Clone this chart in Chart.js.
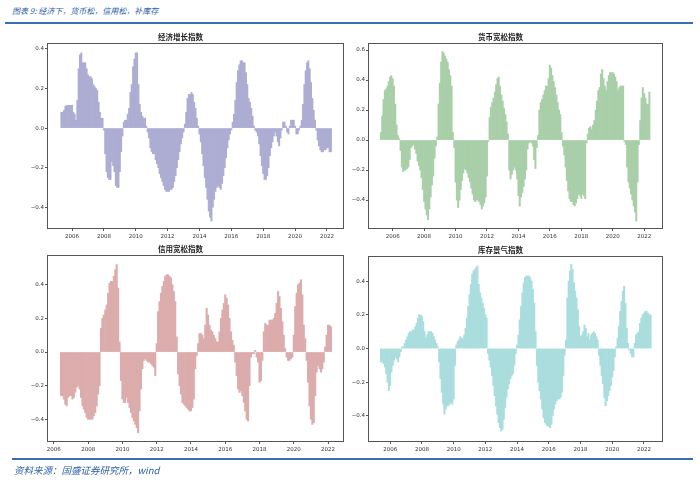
<!DOCTYPE html>
<html>
<head>
<meta charset="utf-8">
<script src="https://cdn.jsdelivr.net/npm/chart.js@4.4.1/dist/chart.umd.min.js"></script>
<style>
  body { margin: 0; background: #fff; }
  #page { position: relative; width: 700px; height: 480px; overflow: hidden; background: #fff; }
  .head { position: absolute; left: 12px; top: 5px; font: italic 8px "Noto Sans CJK SC", sans-serif; color: #2e5fa8; }
  .foot { position: absolute; left: 14px; top: 463px; font: italic 9.5px "Noto Sans CJK SC", sans-serif; color: #2e5fa8; }
  .rule { position: absolute; height: 2px; background: #3b6cb7; }
  canvas { position: absolute; }
</style>
</head>
<body>
<div id="page">
  <div class="head">图表 9: 经济下，货币松，信用松，补库存</div>
  <div class="rule" style="left:5px; top:22px; width:688px;"></div>
  <canvas id="c1" width="329" height="218" style="left:17px; top:27px;"></canvas>
  <canvas id="c2" width="327" height="218" style="left:338px; top:27px;"></canvas>
  <canvas id="c3" width="329" height="219" style="left:17px; top:239px;"></canvas>
  <canvas id="c4" width="327" height="218" style="left:338px; top:240px;"></canvas>
  <div class="rule" style="left:12px; top:458px; width:681px;"></div>
  <div class="foot">资料来源：国盛证券研究所，wind</div>
</div>
<script>
// 月度数据，起始年月
const econStart = [2005, 5];
const econ = [
  0.08, 0.08, 0.09, 0.11, 0.115, 0.115, 0.115, 0.115, 0.115, 0.08, 0.07, 0.04,
  0.14, 0.3, 0.37, 0.38, 0.33, 0.33, 0.33, 0.3, 0.27, 0.26, 0.26, 0.25,
  0.22, 0.21, 0.2, 0.19, 0.13, 0.08, 0.05, 0.05, -0.01, -0.13, -0.22, -0.25,
  -0.26, -0.26, -0.17, -0.19, -0.22, -0.29, -0.3, -0.3, -0.22, -0.12, -0.04, 0.03,
  0.04, 0.04, 0.07, 0.1, 0.18, 0.22, 0.31, 0.35, 0.38, 0.38, 0.22, 0.12,
  0.08, 0.06, 0.05, 0.05, 0.01, -0.02, -0.05, -0.1, -0.12, -0.13, -0.13, -0.16,
  -0.18, -0.2, -0.23, -0.25, -0.27, -0.29, -0.31, -0.32, -0.32, -0.32, -0.31, -0.31,
  -0.3, -0.27, -0.24, -0.2, -0.16, -0.12, -0.08, -0.05, -0.02, 0.02, 0.08, 0.15,
  0.17, 0.17, 0.18, 0.17, 0.13, 0.1, 0.05, 0.01, -0.03, -0.07, -0.13, -0.19,
  -0.25, -0.3, -0.36, -0.42, -0.45, -0.47, -0.4, -0.36, -0.32, -0.3, -0.29, -0.3,
  -0.31, -0.28, -0.24, -0.2, -0.15, -0.1, -0.06, -0.03, -0.01, 0.03, 0.07, 0.14,
  0.23, 0.29, 0.32, 0.34, 0.34, 0.33, 0.33, 0.28, 0.22, 0.15, 0.13, 0.1,
  0.06, 0.01, -0.01, -0.02, -0.04, -0.08, -0.14, -0.19, -0.23, -0.26, -0.26, -0.24,
  -0.2, -0.14, -0.1, -0.07, -0.04, -0.02, -0.04, -0.07, -0.09, -0.05, -0.01, 0.03,
  0.03, 0.01, -0.02, -0.03, 0.01, 0.04, 0.04, 0.04, 0.01, -0.03, -0.03, -0.01,
  0.01, 0.04, 0.12, 0.22, 0.29, 0.33, 0.34, 0.3, 0.23, 0.15, 0.09, 0.04,
  -0.01, -0.06, -0.09, -0.11, -0.12, -0.12, -0.11, -0.11, -0.1, -0.1, -0.12, -0.12
];

const moneyStart = [2005, 4];
const money = [
  0.05, 0.16, 0.27, 0.33, 0.34, 0.36, 0.39, 0.42, 0.43, 0.41, 0.36, 0.24,
  0.1, 0.03, 0.01, -0.07, -0.18, -0.21, -0.2, -0.2, -0.19, -0.18, -0.13, -0.05,
  -0.04, -0.03, -0.06, -0.09, -0.14, -0.17, -0.2, -0.25, -0.33, -0.41, -0.46, -0.5,
  -0.53, -0.46, -0.38, -0.3, -0.24, -0.12, -0.04, 0.02, 0.24, 0.38, 0.52, 0.59,
  0.58, 0.56, 0.54, 0.52, 0.47, 0.43, 0.36, 0.05, -0.05, -0.28, -0.4, -0.45,
  -0.4, -0.33, -0.27, -0.22, -0.19, -0.2, -0.22, -0.25, -0.28, -0.32, -0.36, -0.4,
  -0.41, -0.4, -0.4, -0.41, -0.43, -0.46, -0.44, -0.42, -0.38, -0.24, -0.01, 0.15,
  0.22, 0.25, 0.28, 0.32, 0.37, 0.41, 0.42, 0.36, 0.3, 0.26, 0.21, 0.17,
  0.12, 0.04, -0.2, -0.26, -0.23, -0.2, -0.18, -0.2, -0.26, -0.37, -0.44, -0.38,
  -0.35, -0.31, -0.26, -0.2, -0.06, -0.02, -0.01, -0.02, -0.04, -0.13, -0.19, -0.05,
  0.03, 0.2, 0.25, 0.27, 0.3, 0.33, 0.36, 0.36, 0.41, 0.5, 0.48, 0.43,
  0.39, 0.35, 0.3, 0.25, 0.2, 0.17, 0.05, -0.04, -0.1, -0.18, -0.27, -0.34,
  -0.39, -0.41, -0.41, -0.43, -0.44, -0.42, -0.39, -0.36, -0.37, -0.39, -0.36, -0.37,
  -0.39, -0.02, 0.04, 0.08, 0.09, 0.07, 0.1, 0.13, 0.2, 0.26, 0.33, 0.35,
  0.44, 0.47, 0.41, 0.36, 0.33, 0.39, 0.43, 0.45, 0.45, 0.45, 0.44, 0.42,
  0.39, 0.33, 0.35, 0.36, 0.36, 0.36, -0.01, -0.03, -0.18, -0.28, -0.32, -0.36,
  -0.4, -0.44, -0.48, -0.54, -0.28, -0.03, 0.13, 0.28, 0.35, 0.31, 0.28, 0.24,
  0.24, 0.32
];

const creditStart = [2006, 6];
const credit = [
  -0.26, -0.26, -0.28, -0.31, -0.32, -0.27, -0.26, -0.26, -0.28, -0.27, -0.24, -0.21,
  -0.2, -0.22, -0.27, -0.32, -0.34, -0.36, -0.39, -0.4, -0.4, -0.4, -0.4, -0.38,
  -0.36, -0.32, -0.25, -0.2, 0.14, 0.2, 0.22, 0.25, 0.28, 0.35, 0.41, 0.42,
  0.42, 0.45, 0.49, 0.52, 0.38, 0.06, -0.17, -0.28, -0.3, -0.3, -0.27, -0.3,
  -0.33, -0.36, -0.39, -0.41, -0.43, -0.45, -0.48, -0.35, -0.22, -0.1, -0.05, -0.04,
  -0.05, -0.06, -0.06, -0.07, -0.08, -0.09, -0.14, 0.05, 0.24, 0.3, 0.35, 0.39,
  0.42, 0.45, 0.46, 0.46, 0.45, 0.44, 0.4, 0.36, 0.3, 0.09, -0.13, -0.2,
  -0.25, -0.3, -0.31, -0.32, -0.33, -0.34, -0.35, -0.35, -0.33, -0.28, -0.1, -0.02,
  0.05, 0.11, 0.11, 0.1, 0.08, 0.16, 0.26, 0.22, 0.16, 0.13, 0.12, 0.1,
  0.08, 0.06, 0.06, 0.12, 0.2, 0.25, 0.29, 0.34, 0.32, 0.28, 0.2, 0.12,
  0.07, 0.04, -0.06, -0.14, -0.22, -0.24, -0.23, -0.26, -0.3, -0.35, -0.4, -0.41,
  -0.2, -0.03, -0.01, -0.01, 0.01, -0.03, -0.06, -0.18, -0.17, -0.05, 0.12, 0.17,
  0.16, 0.16, 0.19, 0.19, 0.19, 0.2, 0.23, 0.29, 0.36, 0.33, 0.26, 0.18,
  0.1, 0.02, -0.03, -0.05, -0.05, -0.04, -0.03, 0.1, 0.27, 0.35, 0.4, 0.41,
  0.43, 0.34, 0.16, 0.08, -0.05, -0.18, -0.32, -0.4, -0.43, -0.42, -0.26, -0.12,
  -0.08, -0.1, -0.12, -0.1, -0.06, 0.03, 0.1, 0.16, 0.16, 0.15
];

const stockStart = [2005, 6];
const stock = [
  -0.08, -0.08, -0.09, -0.11, -0.15, -0.2, -0.25, -0.22, -0.14, -0.1, -0.07, -0.05,
  -0.06, -0.08, -0.05, -0.02, 0.01, 0.01, 0.03, 0.05, 0.07, 0.09, 0.1, 0.1,
  0.11, 0.11, 0.13, 0.15, 0.18, 0.2, 0.2, 0.19, 0.16, 0.1, 0.06, 0.08,
  0.1, 0.1, 0.1, 0.09, 0.07, 0.05, 0.03, 0.01, -0.08, -0.18, -0.26, -0.33,
  -0.39, -0.36, -0.34, -0.34, -0.33, -0.32, -0.33, -0.3, -0.1, 0.02, 0.04, 0.05,
  0.07, 0.06, 0.06, 0.08, 0.12, 0.18, 0.25, 0.32, 0.38, 0.44, 0.46, 0.47,
  0.48, 0.49, 0.38, 0.33, 0.3, 0.27, 0.24, 0.2, 0.18, -0.03, -0.07, -0.11,
  -0.16, -0.22, -0.28, -0.34, -0.39, -0.44, -0.47, -0.49, -0.48, -0.42, -0.35, -0.29,
  -0.24, -0.21, -0.18, -0.16, -0.15, -0.1, -0.03, 0.02, 0.08, 0.17, 0.25, 0.33,
  0.39, 0.42, 0.43, 0.43, 0.43, 0.42, 0.4, 0.35, 0.27, 0.1, -0.1, -0.2,
  -0.25, -0.3, -0.36, -0.41, -0.44, -0.45, -0.46, -0.46, -0.47, -0.45, -0.4, -0.36,
  -0.33, -0.31, -0.3, -0.3, -0.29, -0.26, -0.16, -0.04, 0.05, 0.3, 0.4, 0.46,
  0.5, 0.47, 0.39, 0.34, 0.3, 0.23, 0.13, 0.07, 0.08, 0.1, 0.14, 0.12,
  0.07, 0.09, 0.05, 0.08, 0.09, 0.1, 0.09, 0.07, 0.05, -0.04, -0.1, -0.16,
  -0.21, -0.29, -0.34, -0.31, -0.28, -0.25, -0.22, -0.17, -0.13, -0.05, 0.01, 0.06,
  0.13, 0.22, 0.28, 0.34, 0.37, 0.27, 0.12, 0.03, -0.01, -0.03, -0.05, -0.05,
  0.03, 0.08, 0.09, 0.1, 0.15, 0.18, 0.2, 0.21, 0.22, 0.22, 0.21, 0.2, 0.2
];

const yearTicks = [2006, 2008, 2010, 2012, 2014, 2016, 2018, 2020, 2022];

function toPoints(start, values) {
    return values.map((v, i) => ({ x: start[0] + (start[1] - 1 + i) / 12, y: v }));
}

// 外框
const frame = {
    id: 'frame',
    afterDraw(chart) {
        const a = chart.chartArea;
        const ctx = chart.ctx;
        ctx.save();
        ctx.strokeStyle = '#555';
        ctx.lineWidth = 1;
        ctx.strokeRect(Math.round(a.left) + 0.5, Math.round(a.top) + 0.5,
            Math.round(a.right - a.left) - 1, Math.round(a.bottom - a.top) - 1);
        ctx.restore();
    }
};

const tickFont = { family: 'DejaVu Sans', size: 5.5 };

function drawPanel(id, title, points, color, xMin, xMax, yMin, yMax, yTicks) {
    new Chart(document.getElementById(id), {
        type: 'bar',
        data: {
            datasets: [{
                data: points,
                backgroundColor: color,
                borderWidth: 0,
                barPercentage: 1,
                categoryPercentage: 1
            }]
        },
        options: {
            responsive: false,
            animation: false,
            devicePixelRatio: 1,
            layout: { padding: { left: 0, right: 2, top: 0, bottom: 0 } },
            plugins: {
                legend: { display: false },
                tooltip: { enabled: false },
                title: {
                    display: true,
                    text: title,
                    color: '#222',
                    font: { family: 'Noto Sans CJK SC', size: 7.5, weight: 'bold', lineHeight: '10px' },
                    padding: { top: 5, bottom: 1 }
                }
            },
            scales: {
                x: {
                    type: 'linear',
                    min: xMin,
                    max: xMax,
                    offset: false,
                    grid: { display: true, drawOnChartArea: false, drawTicks: true, tickLength: 2, color: '#555', offset: false },
                    border: { display: false },
                    afterBuildTicks: s => { s.ticks = yearTicks.map(v => ({ value: v })); },
                    afterFit: s => { s.height = 16; },
                    ticks: { font: tickFont, color: '#333', padding: 2, maxRotation: 0, callback: v => String(v) }
                },
                y: {
                    min: yMin,
                    max: yMax,
                    grid: { display: true, drawOnChartArea: false, drawTicks: true, tickLength: 2, color: '#555' },
                    border: { display: false },
                    afterBuildTicks: s => { s.ticks = yTicks.map(v => ({ value: v })); },
                    afterFit: s => { s.width = 30; },
                    ticks: { font: tickFont, color: '#333', padding: 1,
                        callback: v => v.toFixed(1).replace('-', '\u2212') }
                }
            }
        },
        plugins: [frame]
    });
}

drawPanel('c1', '经济增长指数', toPoints(econStart, econ), '#adadd4',
    2004.43, 2023.07, -0.51, 0.43, [-0.4, -0.2, 0, 0.2, 0.4]);
drawPanel('c2', '货币宽松指数', toPoints(moneyStart, money), '#a9cfa9',
    2004.43, 2023.2, -0.593, 0.647, [-0.4, -0.2, 0, 0.2, 0.4, 0.6]);
drawPanel('c3', '信用宽松指数', toPoints(creditStart, credit), '#dcacac',
    2005.6, 2022.93, -0.535, 0.577, [-0.4, -0.2, 0, 0.2, 0.4]);
drawPanel('c4', '库存景气指数', toPoints(stockStart, stock), '#aadddd',
    2004.6, 2023.2, -0.555, 0.549, [-0.4, -0.2, 0, 0.2, 0.4]);
</script>
</body>
</html>
